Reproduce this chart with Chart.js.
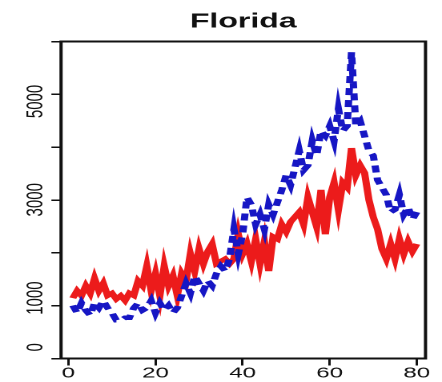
<!DOCTYPE html>
<html>
<head>
<meta charset="utf-8">
<script src="https://cdn.jsdelivr.net/npm/chart.js@4.4.1/dist/chart.umd.min.js"></script>
<style>
  body { margin: 0; background: #fff; }
  /* the reference picture is stretched sideways, so the chart is drawn narrow and widened */
  #wrap { width: 276px; height: 382px; transform: scaleX(1.6014); transform-origin: 0 0; }
</style>
</head>
<body>
<div id="wrap"><canvas id="myChart" width="276" height="382"></canvas></div>
<script>
const dias = [1, 2, 3, 4, 5, 6, 7, 8, 9, 10, 11, 12, 13, 14, 15, 16, 17, 18, 19, 20,
  21, 22, 23, 24, 25, 26, 27, 28, 29, 30, 31, 32, 33, 34, 35, 36, 37, 38, 39, 40,
  41, 42, 43, 44, 45, 46, 47, 48, 49, 50, 51, 52, 53, 54, 55, 56, 57, 58, 59, 60,
  61, 62, 63, 64, 65, 66, 67, 68, 69, 70, 71, 72, 73, 74, 75, 76, 77, 78, 79, 80];

const rojo = [1000, 1150, 1050, 1250, 1100, 1400, 1150, 1300, 1050, 1100,
  980, 1050, 950, 1100, 1050, 1350, 1250, 1650, 1150, 1500,
  1050, 1650, 1250, 1450, 1050, 1500, 1350, 1900, 1550, 2000,
  1700, 1950, 2100, 1700, 1750, 1800, 1700, 1800, 2300, 1900,
  2100, 1750, 2200, 1700, 2150, 1550, 2250, 2200, 2500, 2350,
  2550, 2650, 2750, 2500, 3050, 2750, 2450, 3200, 2300, 3050,
  3350, 2800, 3350, 3250, 4050, 3500, 3700, 3550, 3000, 2650,
  2400, 2000, 1800, 2100, 1800, 2200, 1900, 2150, 1950, 2100];

const azul = [850, 700, 900, 750, 650, 900, 800, 950, 800, 700,
  550, 550, 600, 600, 800, 900, 750, 800, 950, 700,
  900, 750, 850, 700, 800, 1050, 1300, 1100, 1450, 1300,
  1150, 1350, 1250, 1500, 1650, 1550, 1800, 2400, 1900, 2300,
  3050, 2900, 2500, 2700, 2400, 2900, 2700, 2950, 3200, 3500,
  3300, 3650, 4000, 3600, 3700, 4200, 3900, 4400, 4300, 4500,
  4200, 4850, 4400, 4500, 6000, 4500, 4600, 4300, 4000, 3900,
  3400, 3250, 3100, 2750, 2800, 3100, 2700, 2850, 2600, 2750];

const etiquetasY = [0, 1000, 3000, 5000];
const titulo = 'Florida';

const fuente = "'Liberation Sans', Arial, sans-serif";

// caja completa y etiquetas verticales del eje y
const marco = {
    id: 'marco',
    afterDraw(chart) {
        const ctx = chart.ctx;
        const area = chart.chartArea;
        const y = chart.scales.y;
        ctx.save();
        ctx.strokeStyle = '#111';
        ctx.lineWidth = 2;
        ctx.strokeRect(area.left, area.top, area.right - area.left, area.bottom - area.top);
        ctx.fillStyle = '#111';
        ctx.font = '15px ' + fuente;
        ctx.textAlign = 'center';
        ctx.textBaseline = 'middle';
        etiquetasY.forEach(v => {
            ctx.save();
            ctx.translate(22.2, y.getPixelForValue(v));
            ctx.rotate(-Math.PI / 2);
            ctx.fillText(String(v), 0, 0);
            ctx.restore();
        });
        ctx.restore();
    }
};

const ctx = document.getElementById('myChart').getContext('2d');
const myChart = new Chart(ctx, {
    type: 'line',
    data: {
        datasets: [{
            label: 'azul',
            data: dias.map((d, i) => ({ x: d, y: azul[i] })),
            borderColor: '#1616c4',
            borderWidth: 4.5,
            borderDash: [7, 5],
            pointRadius: 0,
            tension: 0,
            fill: false
        }, {
            label: 'rojo',
            data: dias.map((d, i) => ({ x: d, y: rojo[i] })),
            borderColor: '#ec1b1b',
            borderWidth: 4.5,
            pointRadius: 0,
            tension: 0,
            fill: false
        }]
    },
    plugins: [marco],
    options: {
        responsive: false,
        animation: false,
        devicePixelRatio: 2,
        layout: { padding: { left: 0, right: 10.3, top: 0, bottom: 0 } },
        plugins: {
            legend: { display: false },
            tooltip: { enabled: false },
            title: {
                display: true,
                text: titulo,
                fullSize: false,
                color: '#111',
                font: { family: fuente, size: 20, weight: 'bold', lineHeight: 1.2 },
                padding: { top: 10, bottom: 7.5 }
            }
        },
        scales: {
            x: {
                type: 'linear',
                position: 'bottom',
                min: -1.7,
                max: 82,
                afterFit: (s) => { s.height = 23.5; },
                border: { display: false },
                grid: { drawOnChartArea: false, drawTicks: true, tickLength: 7, color: '#111', lineWidth: 1.5 },
                ticks: {
                    stepSize: 20,
                    includeBounds: false,
                    padding: -1,
                    color: '#111',
                    maxRotation: 0,
                    font: { family: fuente, size: 15 }
                }
            },
            y: {
                min: -228,
                max: 6219,
                afterFit: (s) => { s.width = 38.1; },
                border: { display: false },
                grid: { drawOnChartArea: false, drawTicks: true, tickLength: 6, color: '#111', lineWidth: 1.5 },
                ticks: {
                    stepSize: 1000,
                    includeBounds: false,
                    callback: () => '',
                    font: { family: fuente, size: 15 }
                }
            }
        }
    }
});
</script>
</body>
</html>
